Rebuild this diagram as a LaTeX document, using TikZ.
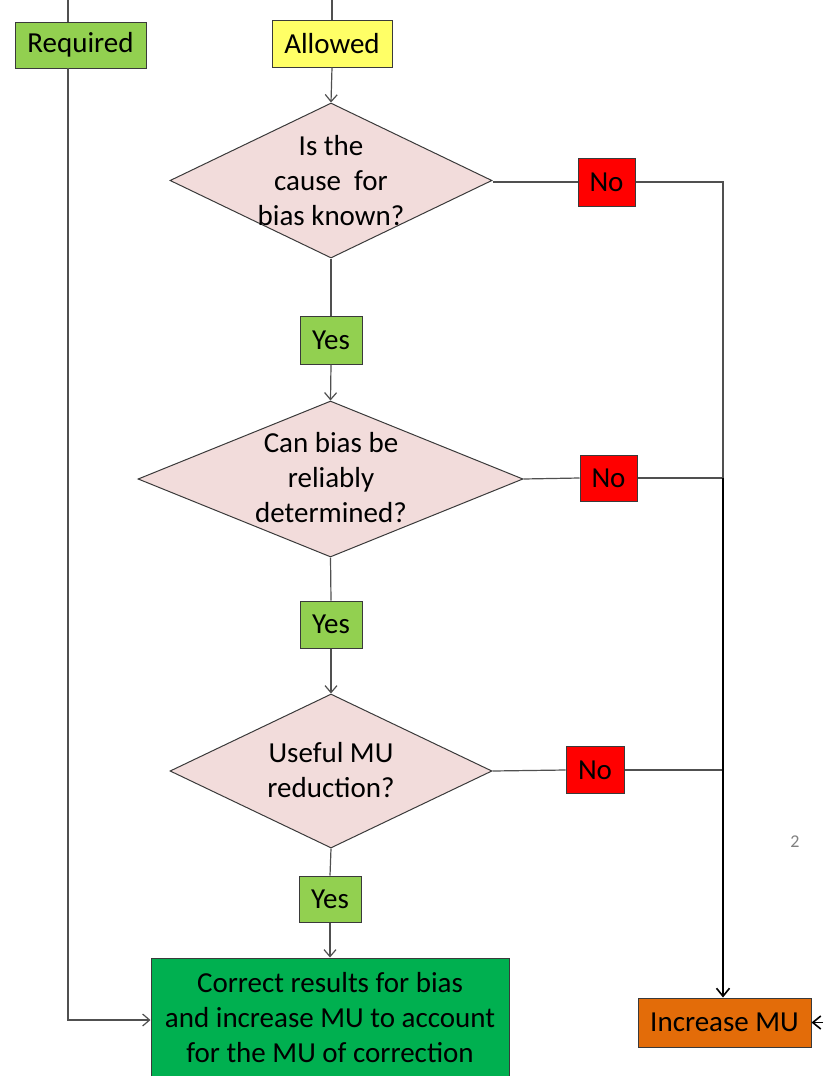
\documentclass[tikz,border=0pt]{standalone}
\usepackage{fontspec}
\setmainfont{Carlito}
\usetikzlibrary{shapes.geometric,arrows.meta}
\definecolor{reqgreen}{HTML}{92D050}
\definecolor{allowyellow}{HTML}{FFFF66}
\definecolor{nored}{HTML}{FF0000}
\definecolor{qpink}{HTML}{F2DCDB}
\definecolor{okgreen}{HTML}{00B050}
\definecolor{incorange}{HTML}{E36C09}
\definecolor{edge}{HTML}{3A3A3A}
\definecolor{wire}{HTML}{505050}
\begin{document}
\begin{tikzpicture}[x=1pt,y=-1pt,
  every node/.style={font=\fontsize{29}{35}\selectfont},
  box/.style={draw=edge,line width=1pt,inner sep=0pt,align=center},
  question/.style={diamond,draw=edge,line width=1pt,fill=qpink,inner sep=0pt},
  qtext/.style={align=center,inner sep=0pt},
  wire/.style={draw=wire,line width=1.2pt},
  tip/.style={wire,-{Straight Barb[length=7pt,width=12pt]}},
  heavy/.style={draw=black,line width=1.6pt}]
\useasboundingbox (0,0) rectangle (823,1076);

% entry boxes
\node[box,fill=reqgreen,minimum width=131pt,minimum height=46pt] (req) at (80.5,45) {Required};
\node[box,fill=allowyellow,minimum width=120pt,minimum height=47pt] (allow) at (332,43.5) {Allowed};
\coordinate (reqtop) at (68,0);
\coordinate (reqin) at (68,22);
\coordinate (reqout) at (68,68);
\coordinate (reqturn) at (68,1020);
\coordinate (allowtop) at (332,0);

% decisions
\node[question,minimum width=322pt,minimum height=155pt] (q1) at (331,180.5) {};
\node[qtext] (t1) at (331,181) {Is the\\cause\ \ for\\bias known?};
\node[question,minimum width=385pt,minimum height=156pt] (q2) at (330.5,479) {};
\node[qtext] (t2) at (331,478) {Can bias be\\reliably\\determined?};
\node[question,minimum width=322pt,minimum height=154pt] (q3) at (331,771) {};
\node[qtext] (t3) at (331,770) {Useful MU\\reduction?};

% answers
\node[box,fill=reqgreen,minimum width=62pt,minimum height=48pt] (y1) at (331,340) {Yes};
\node[box,fill=reqgreen,minimum width=62pt,minimum height=47pt] (y2) at (331,624.5) {Yes};
\node[box,fill=reqgreen,minimum width=62pt,minimum height=46pt] (y3) at (330,899) {Yes};
\node[box,fill=nored,minimum width=57pt,minimum height=48pt] (n1) at (606.5,182) {No};
\node[box,fill=nored,minimum width=57pt,minimum height=46pt] (n2) at (608.5,478) {No};
\node[box,fill=nored,minimum width=58pt,minimum height=47pt] (n3) at (595,770) {No};

% outcomes
\node[box,fill=okgreen,minimum width=358pt,minimum height=130pt] (fix) at (330,1023) {};
\node[qtext] (fixt) at (330,1018) {Correct results for bias\\and increase MU to account\\for the MU of correction};
\node[box,fill=incorange,minimum width=173pt,minimum height=49pt] (inc) at (724.5,1022.5) {Increase MU};
\coordinate (incin) at (823,1022.5);

% collector on the right
\coordinate (r1) at (723,182);
\coordinate (r2) at (723,478);
\coordinate (r3) at (723,770);

\node[font=\fontsize{18}{20}\selectfont,text=gray] (pg) at (795,842) {2};

% connectors
\draw[wire] (reqtop) -- (reqin);
\draw[tip] (reqout) -- (reqturn) -- (fix.west |- reqturn);
\draw[wire] (allowtop) -- (allow.north);
\draw[tip] (allow.south) -- (q1.north);
\draw[wire] (q1.south) -- (y1.north);
\draw[tip] (y1.south) -- (q2.north);
\draw[wire] (q2.south) -- (y2.north);
\draw[tip] (y2.south) -- (q3.north);
\draw[wire] (q3.south) -- (y3.north);
\draw[tip] (y3.south) -- (fix.north -| y3.south);

\draw[wire] (q1.east |- n1) -- (n1.west);
\draw[wire] (n1.east) -- (r1) -- (r2);
\draw[wire] (q2.east) -- (n2.west);
\draw[wire] (n2.east) -- (r2);
\draw[wire] (q3.east) -- (n3.west);
\draw[wire] (n3.east) -- (r3);
\draw[heavy,-{Straight Barb[length=8pt,width=13pt]}] (r2) -- (inc.north -| r2);
\draw[heavy,-{Straight Barb[length=8pt,width=13pt]}] (incin) -- (inc.east);
\end{tikzpicture}
\end{document}
